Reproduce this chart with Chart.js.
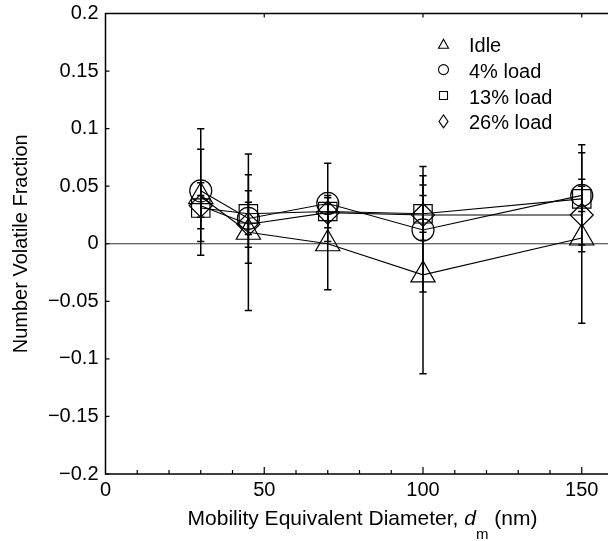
<!DOCTYPE html>
<html>
<head>
<meta charset="utf-8">
<script src="https://cdn.jsdelivr.net/npm/chart.js@4.4.1/dist/chart.umd.min.js"></script>
<style>
html, body { margin: 0; padding: 0; overflow: hidden; background: #fff; }
canvas { display: block; }
</style>
</head>
<body>
<canvas id="myChart" width="620" height="541"></canvas>
<script>
// mobility diameter (nm)
var diameters = [30, 45, 70, 100, 150];

var seriesNames = ['Idle', '4% load', '13% load', '26% load'];

var idleVals = [0.041, 0.010, 0.000, -0.027, 0.005];
var idleLow  = [0.002, -0.058, -0.040, -0.113, -0.069];
var idleHigh = [0.082, 0.078, 0.040, 0.059, 0.079];

var load4Vals = [0.046, 0.022, 0.035, 0.012, 0.042];
var load4Low  = [-0.010, -0.017, 0.002, -0.042, -0.001];
var load4High = [0.100, 0.060, 0.070, 0.067, 0.086];

var load13Vals = [0.031, 0.026, 0.028, 0.026, 0.039];
var load13Low  = [0.013, 0.008, 0.014, 0.003, 0.028];
var load13High = [0.053, 0.046, 0.042, 0.051, 0.050];

var load26Vals = [0.033, 0.017, 0.027, 0.025, 0.025];
var load26Low  = [0.023, -0.003, 0.020, 0.010, -0.007];
var load26High = [0.042, 0.036, 0.034, 0.042, 0.056];

var xTicks = [0, 50, 100, 150];
var xMinorTicks = [10, 20, 30, 40, 60, 70, 80, 90, 110, 120, 130, 140];
var yTicks = [-0.2, -0.15, -0.1, -0.05, 0, 0.05, 0.1, 0.15, 0.2];

var FONT = "'Liberation Sans', Arial, Helvetica, sans-serif";
Chart.defaults.font.family = FONT;
Chart.defaults.color = '#000';

function toPoints(vals) {
    var pts = [];
    for (var i = 0; i < diameters.length; i++) {
        pts.push({x: diameters[i], y: vals[i]});
    }
    return pts;
}

function makeSet(label, vals, low, high, style, radius) {
    return {
        label: label,
        data: toPoints(vals),
        errLow: low,
        errHigh: high,
        showLine: true,
        borderColor: '#000',
        borderWidth: 1.1,
        pointStyle: style,
        pointRadius: radius,
        pointHoverRadius: radius,
        pointBorderColor: '#000',
        pointBackgroundColor: 'rgba(0,0,0,0)',
        pointBorderWidth: 1.2,
        tension: 0
    };
}

// small markers for the legend box
function legendMarker(ctx, style, x, y) {
    ctx.beginPath();
    if (style == 'triangle') {
        ctx.moveTo(x, y - 4.5);
        ctx.lineTo(x + 5, y + 4.5);
        ctx.lineTo(x - 5, y + 4.5);
        ctx.closePath();
    } else if (style == 'circle') {
        ctx.arc(x, y, 5, 0, Math.PI * 2);
    } else if (style == 'rect') {
        ctx.rect(x - 4, y - 4, 8, 8);
    } else {
        ctx.moveTo(x, y - 6.5);
        ctx.lineTo(x + 4.5, y);
        ctx.lineTo(x, y + 6.5);
        ctx.lineTo(x - 4.5, y);
        ctx.closePath();
    }
    ctx.stroke();
}

var decorPlugin = {
    id: 'decor',
    beforeDatasetsDraw: function(chart) {
        var ctx = chart.ctx;
        var xs = chart.scales.x, ys = chart.scales.y;
        var area = chart.chartArea;
        ctx.save();
        // zero line
        ctx.strokeStyle = '#333';
        ctx.lineWidth = 1;
        var y0 = ys.getPixelForValue(0);
        ctx.beginPath();
        ctx.moveTo(area.left, y0);
        ctx.lineTo(area.right, y0);
        ctx.stroke();

        // error bars
        ctx.strokeStyle = '#000';
        ctx.lineWidth = 1.5;
        chart.data.datasets.forEach(function(ds) {
            for (var i = 0; i < ds.data.length; i++) {
                var px = xs.getPixelForValue(ds.data[i].x);
                var pLo = ys.getPixelForValue(ds.errLow[i]);
                var pHi = ys.getPixelForValue(ds.errHigh[i]);
                ctx.beginPath();
                ctx.moveTo(px, pLo);
                ctx.lineTo(px, pHi);
                ctx.moveTo(px - 3.6, pLo);
                ctx.lineTo(px + 3.6, pLo);
                ctx.moveTo(px - 3.6, pHi);
                ctx.lineTo(px + 3.6, pHi);
                ctx.stroke();
            }
        });
        ctx.restore();
    },
    afterDraw: function(chart) {
        var ctx = chart.ctx;
        var xs = chart.scales.x, ys = chart.scales.y;
        var area = chart.chartArea;
        ctx.save();
        ctx.strokeStyle = '#000';
        ctx.lineWidth = 1.5;
        ctx.strokeRect(area.left, area.top, area.right - area.left, area.bottom - area.top);

        // inward ticks
        ctx.lineWidth = 1.2;
        ctx.beginPath();
        xTicks.forEach(function(v) {
            var p = xs.getPixelForValue(v);
            if (v == 0) return;
            ctx.moveTo(p, area.bottom);
            ctx.lineTo(p, area.bottom - 7);
            ctx.moveTo(p, area.top);
            ctx.lineTo(p, area.top + 4);
        });
        xMinorTicks.forEach(function(v) {
            var p = xs.getPixelForValue(v);
            ctx.moveTo(p, area.bottom);
            ctx.lineTo(p, area.bottom - 4);
        });
        yTicks.forEach(function(v) {
            var p = ys.getPixelForValue(v);
            ctx.moveTo(area.left, p);
            ctx.lineTo(area.left + 4, p);
        });
        ctx.stroke();

        // legend
        ctx.lineWidth = 1.1;
        ctx.fillStyle = '#000';
        ctx.font = '20px ' + FONT;
        ctx.textAlign = 'left';
        ctx.textBaseline = 'alphabetic';
        chart.data.datasets.forEach(function(ds, i) {
            var base = 51.7 + i * 25.9;
            legendMarker(ctx, ds.pointStyle, 443.5, base - 8);
            ctx.fillText(ds.label, 469, base);
        });

        // x axis title with italic d and subscript m
        var parts = [
            {t: 'Mobility Equivalent Diameter, ', f: '21px ' + FONT, dy: 0},
            {t: 'd', f: 'italic 21px ' + FONT, dy: 0},
            {t: 'm', f: '15px ' + FONT, dy: 14},
            {t: ' (nm)', f: '21px ' + FONT, dy: 0}
        ];
        var total = 0;
        parts.forEach(function(p) { ctx.font = p.f; p.w = ctx.measureText(p.t).width; total += p.w; });
        var cx = (area.left + area.right) / 2 + 3;
        var x = cx - total / 2;
        var base = 525;
        parts.forEach(function(p) {
            ctx.font = p.f;
            ctx.fillText(p.t, x, base + p.dy);
            x += p.w;
        });
        ctx.restore();
    }
};

var ctx = document.getElementById('myChart').getContext('2d');
var chart = new Chart(ctx, {
    type: 'scatter',
    data: {
        datasets: [
            makeSet(seriesNames[0], idleVals, idleLow, idleHigh, 'triangle', 14),
            makeSet(seriesNames[1], load4Vals, load4Low, load4High, 'circle', 11),
            makeSet(seriesNames[2], load13Vals, load13Low, load13High, 'rect', 13),
            makeSet(seriesNames[3], load26Vals, load26Low, load26High, 'rectRot', 11.5)
        ]
    },
    options: {
        responsive: false,
        animation: false,
        layout: { autoPadding: false, padding: { top: 13.5, right: 6.5, left: 0, bottom: 0 } },
        plugins: {
            legend: { display: false },
            tooltip: { enabled: false }
        },
        scales: {
            x: {
                type: 'linear',
                min: 0,
                max: 160,
                grid: { display: false, drawTicks: false },
                border: { display: false },
                ticks: { font: { size: 20 }, padding: 4, maxRotation: 0 },
                afterBuildTicks: function(s) { s.ticks = xTicks.map(function(v) { return {value: v}; }); },
                afterFit: function(s) {
                    s.height = 67;
                    s.paddingLeft = 0;
                    s.paddingRight = 0;
                }
            },
            y: {
                type: 'linear',
                min: -0.2,
                max: 0.2,
                grid: { display: false, drawTicks: false },
                border: { display: false },
                ticks: {
                    font: { size: 20 },
                    padding: 7,
                    callback: function(v) { return v < 0 ? '\u2212' + String(-v) : String(v); }
                },
                afterBuildTicks: function(s) { s.ticks = yTicks.map(function(v) { return {value: v}; }); },
                afterFit: function(s) {
                    s.width = 105.5;
                    s.paddingTop = 0;
                    s.paddingBottom = 0;
                },
                title: {
                    display: true,
                    text: 'Number Volatile Fraction',
                    font: { size: 20 },
                    padding: { top: 9, bottom: 0 }
                }
            }
        }
    },
    plugins: [decorPlugin]
});
</script>
</body>
</html>
